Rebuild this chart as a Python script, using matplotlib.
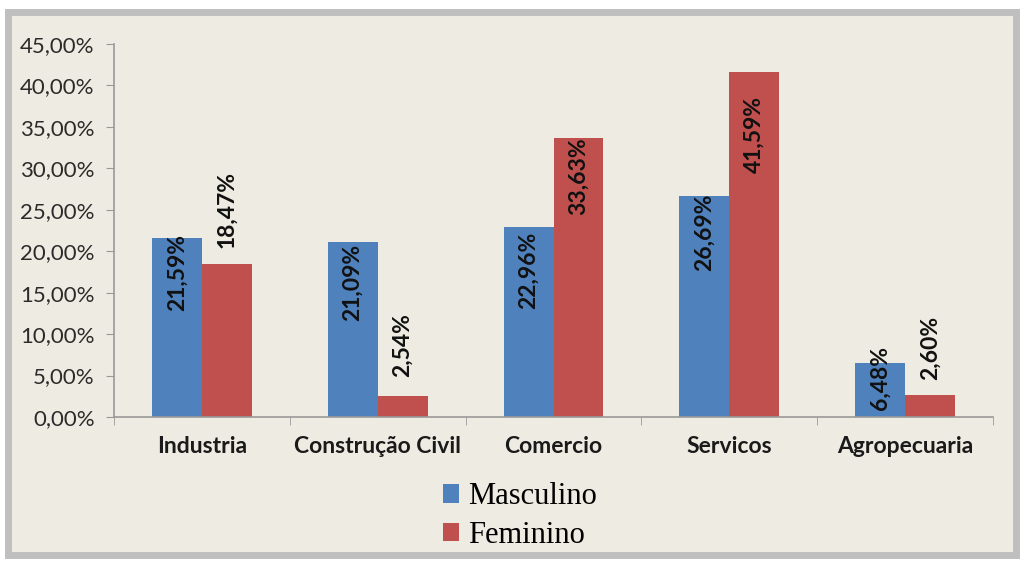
import numpy as np
import matplotlib.pyplot as plt
from matplotlib.patches import Rectangle
from matplotlib.ticker import FuncFormatter

setores = ['Industria', 'Construção Civil', 'Comercio', 'Servicos', 'Agropecuaria']
masculino = [21.59, 21.09, 22.96, 26.69, 6.48]
feminino = [18.47, 2.54, 33.63, 41.59, 2.60]
# altura (centro) onde cada rótulo foi colocado, em %
rot_masc = [17.4, 16.2, 17.7, 22.3, 4.7]
rot_fem = [25.0, 8.7, 29.1, 34.1, 8.3]

azul = '#4F81BD'
vermelho = '#C0504D'
fundo = '#EEECE2'

fig = plt.figure(figsize=(10.21, 5.61), dpi=100, facecolor='white')
# moldura do gráfico
fig.patches.append(Rectangle((8 / 1021, 6 / 561), 1008 / 1021, 543 / 561,
                             transform=fig.transFigure, facecolor=fundo,
                             edgecolor='#BFBFBF', linewidth=5, zorder=-1))

ax = fig.add_axes([114 / 1021, (561 - 417) / 561, (993 - 114) / 1021, (417 - 44) / 561])
ax.patch.set_alpha(0)

x = np.arange(len(setores))
w = 0.284
ax.bar(x - w / 2, masculino, w, color=azul, label='Masculino', zorder=2)
ax.bar(x + w / 2, feminino, w, color=vermelho, label='Feminino', zorder=2)

fmt = lambda v: ('%.2f%%' % v).replace('.', ',')
for i in range(len(setores)):
    ax.text(x[i] - w / 2, rot_masc[i], fmt(masculino[i]), rotation=90, ha='center',
            va='center', fontsize=16.5, fontweight='bold', family='Lato', color='#111111', zorder=3)
    ax.text(x[i] + w / 2, rot_fem[i], fmt(feminino[i]), rotation=90, ha='center',
            va='center', fontsize=16.5, fontweight='bold', family='Lato', color='#111111', zorder=3)

ax.set_xlim(-0.5, len(setores) - 0.5)
ax.set_ylim(0, 45)
ax.set_yticks(np.arange(0, 46, 5))
ax.yaxis.set_major_formatter(FuncFormatter(lambda v, p: fmt(v)))
ax.set_xticks(x)
ax.set_xticklabels(setores, fontsize=16.5, fontweight='bold', family='Lato', color='#1a1a1a')
ax.set_xticks(np.arange(-0.5, len(setores), 1), minor=True)
ax.tick_params(axis='x', which='major', length=0, pad=14)
ax.tick_params(axis='x', which='minor', length=6, color='#999999', direction='out')
ax.tick_params(axis='y', length=6, color='#999999', labelsize=16, labelcolor='#2b2b2b', pad=8)
for t in ax.get_yticklabels():
    t.set_family('Lato')

for s in ['top', 'right']:
    ax.spines[s].set_visible(False)
for s in ['left', 'bottom']:
    ax.spines[s].set_color('#999999')
    ax.spines[s].set_linewidth(1.2)

leg = fig.legend(loc='center', bbox_to_anchor=(520 / 1021, 1 - 516 / 561), frameon=False,
                 prop={'family': 'Liberation Serif', 'size': 22}, handlelength=0.55,
                 handleheight=0.55, handletextpad=0.3, labelspacing=0.3)

fig.savefig('out.png', dpi=100, facecolor='white')
